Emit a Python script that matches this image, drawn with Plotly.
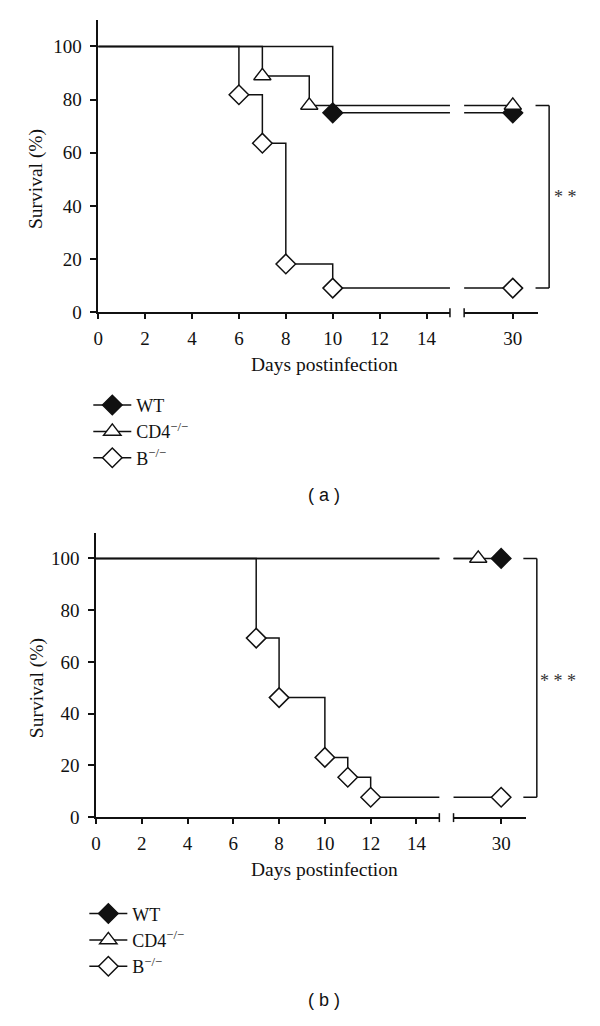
import plotly.graph_objects as go

# ---------------- data ----------------
# Panel (a)
a_wt_days = [0, 10, 30]
a_wt_surv = [100, 75, 75]
a_cd4_days = [0, 7, 9, 30]
a_cd4_surv = [100, 88.9, 77.8, 77.8]
a_b_days = [0, 6, 7, 8, 10, 30]
a_b_surv = [100, 81.8, 63.6, 18.2, 9.1, 9.1]

# Panel (b)
b_wt_days = [0, 30]
b_wt_surv = [100, 100]
b_cd4_days = [0, 29]
b_cd4_surv = [100, 100]
b_b_days = [0, 7, 8, 10, 11, 12, 30]
b_b_surv = [100, 69.2, 46.2, 23.1, 15.4, 7.7, 7.7]

series_names = ["WT", "CD4<sup>−/−</sup>", "B<sup>−/−</sup>"]
x_ticks_early = [0, 2, 4, 6, 8, 10, 12, 14]
x_ticks_late = [30]
y_ticks = [0, 20, 40, 60, 80, 100]
x_label = "Days postinfection"
y_label = "Survival (%)"
sig_a = "* *"
sig_b = "* * *"

# ---------------- style ----------------
SERIF = "Liberation Serif"
SANS = "Liberation Sans"
BLACK = "#111111"
LW = 1.5
MSIZE = 15
styles = [
    dict(symbol="diamond", color=BLACK),
    dict(symbol="triangle-up", color="white"),
    dict(symbol="diamond", color="white"),
]

W, H = 600, 1026


def px_x(p):
    return p / W


def px_y(p):
    return 1 - p / H


fig = go.Figure()

panels = [
    dict(series=[(a_wt_days, a_wt_surv), (a_cd4_days, a_cd4_surv), (a_b_days, a_b_surv)],
         xa=("x", "x2"), ya="y", legend="legend"),
    dict(series=[(b_wt_days, b_wt_surv), (b_cd4_days, b_cd4_surv), (b_b_days, b_b_surv)],
         xa=("x3", "x4"), ya="y2", legend="legend2"),
]

for p in panels:
    # step lines
    for (d, s) in p["series"]:
        for xa in p["xa"]:
            fig.add_trace(go.Scatter(x=d, y=s, mode="lines", line=dict(color=BLACK, width=LW, shape="hv"),
                                     xaxis=xa, yaxis=p["ya"], showlegend=False, hoverinfo="skip"))
    # markers
    for (d, s), st in zip(p["series"], styles):
        for xa in p["xa"]:
            fig.add_trace(go.Scatter(x=d[1:], y=s[1:], mode="markers",
                                     marker=dict(symbol=st["symbol"], size=MSIZE, color=st["color"],
                                                 line=dict(color=BLACK, width=LW)),
                                     xaxis=xa, yaxis=p["ya"], showlegend=False))
    # legend entries
    for name, st in zip(series_names, styles):
        fig.add_trace(go.Scatter(x=[None], y=[None], mode="lines+markers", name=name,
                                 line=dict(color=BLACK, width=LW),
                                 marker=dict(symbol=st["symbol"], size=MSIZE, color=st["color"],
                                             line=dict(color=BLACK, width=LW)),
                                 xaxis=p["xa"][0], yaxis=p["ya"], legend=p["legend"]))

tickfont = dict(family=SERIF, size=19, color=BLACK)
common_x = dict(showline=True, linewidth=LW, linecolor=BLACK, ticks="outside", ticklen=5,
                tickwidth=LW, tickcolor=BLACK, showgrid=False, zeroline=False, tickfont=tickfont,
                ticklabelstandoff=3)
common_y = dict(showline=True, linewidth=LW, linecolor=BLACK, ticks="outside", ticklen=6,
                tickwidth=LW, tickcolor=BLACK, showgrid=False, zeroline=False, tickfont=tickfont,
                range=[0, 110], tickvals=y_ticks, ticklabelstandoff=5)

# geometry (pixels in the 600x1026 page)
A = dict(x0=94, x1=448.7, x2s=463, x2e=537.3, ytop=20, ybot=315.7)
B = dict(x0=91.7, x1=438, x2s=452.3, x2e=525, ytop=538.3, ybot=826)
late_range = [27.92, 31.07]

fig.update_layout(
    xaxis=dict(domain=[px_x(A["x0"]), px_x(A["x1"])], range=[0, 15], tickvals=x_ticks_early, anchor="y", **common_x),
    xaxis2=dict(domain=[px_x(A["x2s"]), px_x(A["x2e"])], range=late_range, tickvals=x_ticks_late, anchor="y", **common_x),
    yaxis=dict(domain=[px_y(A["ybot"]), px_y(A["ytop"])], anchor="x", **common_y),
    xaxis3=dict(domain=[px_x(B["x0"]), px_x(B["x1"])], range=[0, 15], tickvals=x_ticks_early, anchor="y2", **common_x),
    xaxis4=dict(domain=[px_x(B["x2s"]), px_x(B["x2e"])], range=late_range, tickvals=x_ticks_late, anchor="y2", **common_x),
    yaxis2=dict(domain=[px_y(B["ybot"]), px_y(B["ytop"])], anchor="x3", **common_y),
)

legend_style = dict(font=dict(family=SERIF, size=18, color=BLACK), bgcolor="rgba(0,0,0,0)",
                    xanchor="left", yanchor="top", itemclick=False, tracegroupgap=0, itemwidth=38)
fig.update_layout(
    legend=dict(x=px_x(84), y=px_y(391), **legend_style),
    legend2=dict(x=px_x(80), y=px_y(905), **legend_style),
)

annots = []
shapes = []


def add_panel_decor(g, yref, sig, labely, caption, capy, bx, btick, stars_xy, b_top, b_bot, ylab_x):
    # axis titles
    annots.append(dict(text=x_label, x=px_x(322), y=px_y(labely), xref="paper", yref="paper",
                       showarrow=False, font=dict(family=SERIF, size=19.5, color=BLACK),
                       xanchor="center", yanchor="middle"))
    annots.append(dict(text=y_label, x=px_x(ylab_x), y=50, xref="paper", yref=yref, textangle=-90,
                       showarrow=False, font=dict(family=SERIF, size=19.5, color=BLACK),
                       xanchor="center", yanchor="middle"))
    # caption
    annots.append(dict(text=caption, x=px_x(322), y=px_y(capy), xref="paper", yref="paper",
                       showarrow=False, font=dict(family=SANS, size=18, color=BLACK),
                       xanchor="center", yanchor="middle"))
    # significance
    annots.append(dict(text=sig, x=px_x(stars_xy[0]), y=px_y(stars_xy[1] + 4), xref="paper", yref="paper",
                       showarrow=False, font=dict(family=SERIF, size=18, color="#333333"),
                       xanchor="center", yanchor="middle"))
    line = dict(color=BLACK, width=LW)
    shapes.append(dict(type="line", xref="paper", yref=yref, x0=px_x(bx), x1=px_x(bx), y0=b_top, y1=b_bot, line=line))
    shapes.append(dict(type="line", xref="paper", yref=yref, x0=px_x(btick), x1=px_x(bx), y0=b_top, y1=b_top, line=line))
    shapes.append(dict(type="line", xref="paper", yref=yref, x0=px_x(btick), x1=px_x(bx), y0=b_bot, y1=b_bot, line=line))
    # axis break caps
    for cx in (g["x1"], g["x2s"]):
        shapes.append(dict(type="line", xref="paper", yref="paper", x0=px_x(cx), x1=px_x(cx),
                           y0=px_y(g["ybot"] - 4), y1=px_y(g["ybot"] + 5), line=line))


add_panel_decor(A, "y", sig_a, 368, "( a )", 500, 548.7, 535, (565, 195), a_cd4_surv[-1], a_b_surv[-1], 32)
add_panel_decor(B, "y2", sig_b, 879, "( b )", 1011, 536.3, 522.7, (558, 684), b_wt_surv[-1], b_b_surv[-1], 31.7)

fig.update_layout(
    width=W, height=H, margin=dict(l=0, r=0, t=0, b=0),
    paper_bgcolor="white", plot_bgcolor="white",
    annotations=annots, shapes=shapes, showlegend=True,
)

# remove the browser's default page margin so the figure sits at the page origin
page_css = ("var s=document.createElement('style');"
            "s.innerHTML='html,body{margin:0;padding:0;overflow:hidden}"
            " .plotly-graph-div,.svg-container{display:block !important}';"
            "document.head.appendChild(s);")
fig.write_html("out.html", post_script=page_css, config={"displayModeBar": False})
